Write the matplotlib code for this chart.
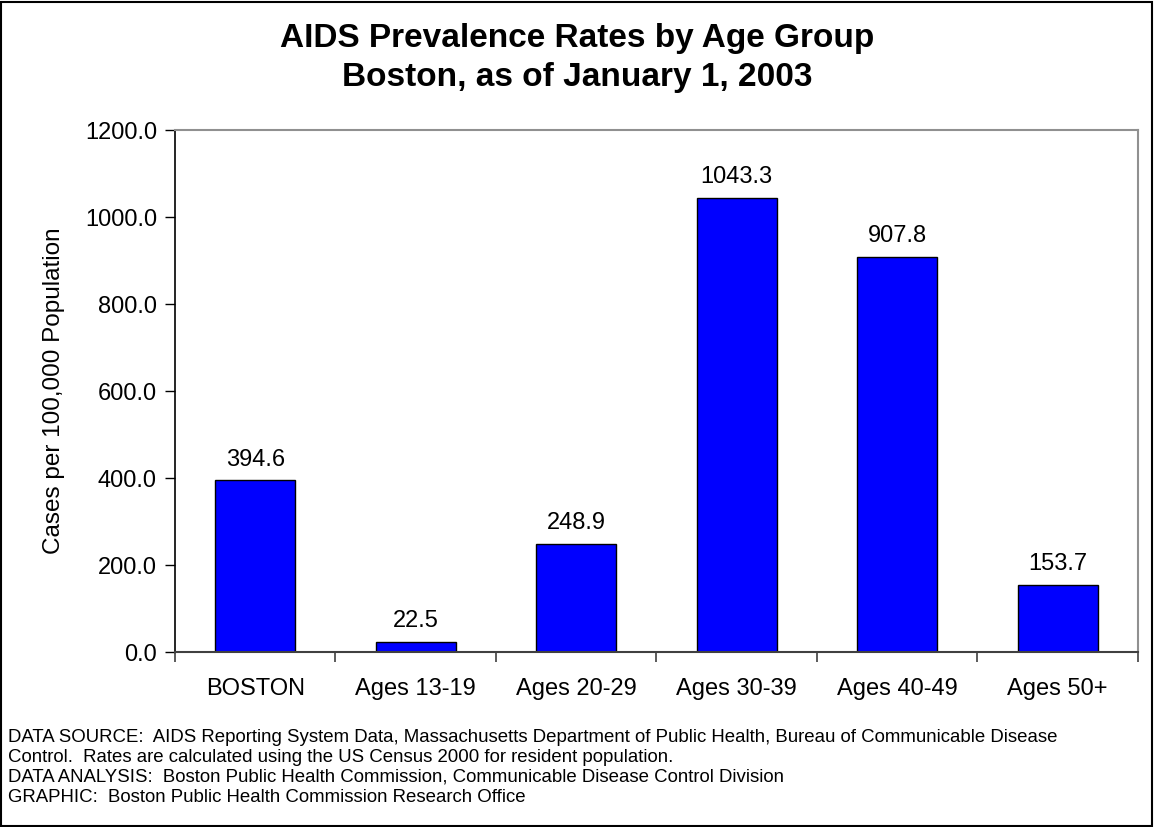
import matplotlib.pyplot as plt
from matplotlib.patches import Rectangle

categories = ["BOSTON", "Ages 13-19", "Ages 20-29", "Ages 30-39", "Ages 40-49", "Ages 50+"]
rates = [394.6, 22.5, 248.9, 1043.3, 907.8, 153.7]
yticks = [0, 200, 400, 600, 800, 1000, 1200]

footer_lines = [
    "DATA SOURCE:  AIDS Reporting System Data, Massachusetts Department of Public Health, Bureau of Communicable Disease",
    "Control.  Rates are calculated using the US Census 2000 for resident population.",
    "DATA ANALYSIS:  Boston Public Health Commission, Communicable Disease Control Division",
    "GRAPHIC:  Boston Public Health Commission Research Office",
]

plt.rcParams['font.family'] = ['Liberation Sans', 'DejaVu Sans']

fig = plt.figure(figsize=(11.54, 8.27), dpi=100)
ax = fig.add_axes([0.1516, 0.2116, 0.8345, 0.6312])

x = range(len(categories))
ax.bar(x, rates, width=0.5, color="#0000FF", edgecolor="black", linewidth=1.0)
for xi, v in zip(x, rates):
    ax.annotate(f"{v:.1f}", (xi, v), xytext=(0, 7), textcoords="offset points",
                ha="center", va="bottom", fontsize=17)

ax.set_xlim(-0.5, len(categories) - 0.5)
ax.set_ylim(0, 1200)
ax.set_yticks(yticks)
ax.set_yticklabels([f"{t:.1f}" for t in yticks], fontsize=17)
ax.set_xticks(list(x))
ax.set_xticklabels(categories, fontsize=17)
ax.tick_params(axis="x", length=0, pad=19)
ax.set_xticks([i + 0.5 for i in range(-1, len(categories))], minor=True)
ax.tick_params(axis="x", which="minor", length=7, width=1.2, direction="out", color="#404040")
ax.tick_params(axis="y", length=7, width=1.0, direction="out", pad=6)

ax.set_ylabel("Cases per 100,000 Population", fontsize=17.5, labelpad=14)

ax.spines["top"].set_color("#909090")
ax.spines["right"].set_color("#909090")
ax.spines["top"].set_linewidth(1.5)
ax.spines["right"].set_linewidth(1.5)
ax.spines["bottom"].set_color("#404040")
ax.spines["bottom"].set_linewidth(1.5)
ax.spines["left"].set_color("black")
ax.spines["left"].set_linewidth(1.2)

fig.text(0.5, 1 - 47 / 827, "AIDS Prevalence Rates by Age Group",
         ha="center", va="baseline", fontsize=24, fontweight="bold")
fig.text(0.5, 1 - 86 / 827, "Boston, as of January 1, 2003",
         ha="center", va="baseline", fontsize=24, fontweight="bold")

for i, line in enumerate(footer_lines):
    fig.text(8 / 1154, 1 - (738 + i * 19.7) / 827, line, ha="left", va="center", fontsize=13.4)

fig.patches.append(Rectangle((0.001, 0.001), 0.997, 0.997, transform=fig.transFigure,
                             fill=False, edgecolor="black", linewidth=1.5))

fig.savefig("out.png", dpi=100)
plt.close(fig)
